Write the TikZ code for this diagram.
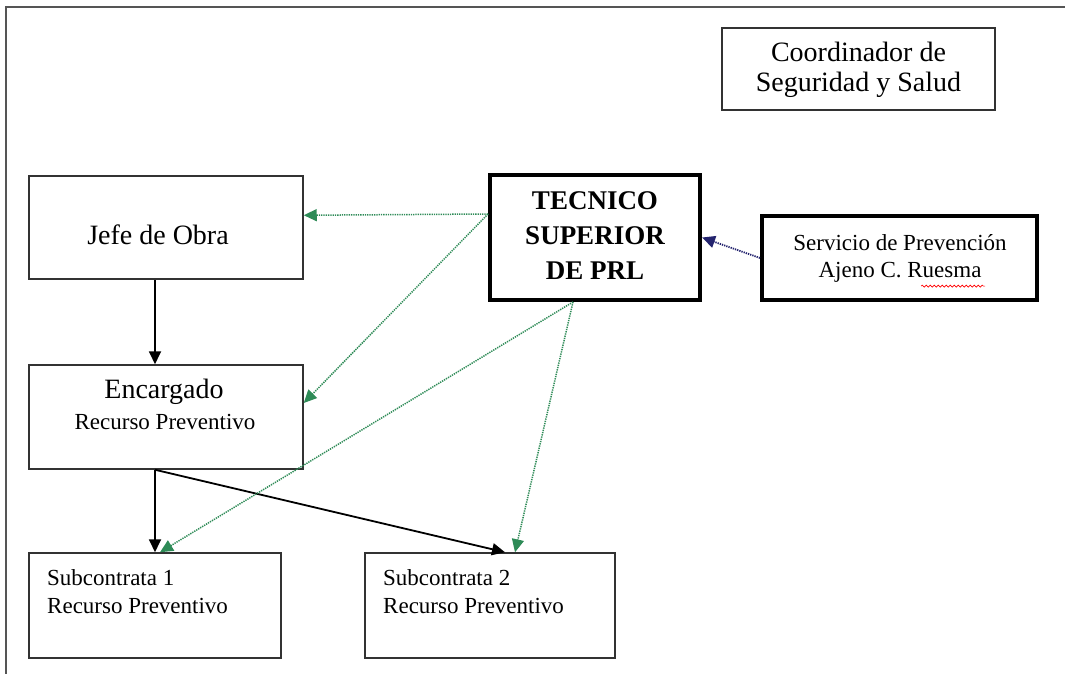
\documentclass[tikz,border=0pt]{standalone}
\usepackage{fontspec}
\setmainfont{Liberation Serif}
\usetikzlibrary{arrows.meta,calc,decorations.pathmorphing}
\definecolor{frame}{RGB}{85,85,85}
\definecolor{boxline}{RGB}{50,50,50}
\definecolor{grn}{RGB}{46,139,87}
\definecolor{navy}{RGB}{35,35,110}
\tikzset{
  plainbox/.style={draw=boxline, line width=1.5pt, minimum width=#1, inner sep=0pt},
  thickbox/.style={draw=black, line width=4pt, inner sep=0pt},
  txt/.style={inner sep=0pt, align=center, font=\fontsize{23}{27}\selectfont},
  bigtxt/.style={inner sep=0pt, align=center, font=\fontsize{28}{30}\selectfont},
  lefttxt/.style={inner sep=0pt, align=left, anchor=north west, font=\fontsize{23}{28}\selectfont},
  blackarrow/.style={draw=black, line width=1.8pt, -{Triangle[length=13pt,width=12pt]}},
  greenarrow/.style={draw=grn, line width=1.5pt, dash pattern=on 1.3pt off 1pt, -{Triangle[length=13pt,width=12pt,fill=grn]}},
  navyarrow/.style={draw=navy, line width=1.8pt, dash pattern=on 1.3pt off 1pt, -{Triangle[length=13pt,width=12pt,fill=navy]}}
}
\begin{document}
\begin{tikzpicture}[x=1pt,y=-1pt]
\useasboundingbox (0,0) rectangle (1065,674);
% outer frame
\draw[frame, line width=2pt] (6,674) -- (6,7) -- (1065,7);

% boxes
\node[plainbox=273pt, minimum height=82pt] (coord) at (858.5,69) {};
\node[plainbox=274pt, minimum height=103pt] (jefe) at (166,227.5) {};
\node[plainbox=274pt, minimum height=104pt] (enc) at (166,417) {};
\node[thickbox, minimum width=210pt, minimum height=125pt] (tec) at (595,237.5) {};
\node[thickbox, minimum width=275pt, minimum height=84pt] (serv) at (899.5,258) {};
\node[plainbox=252pt, minimum height=105pt] (sub1) at (155,605.5) {};
\node[plainbox=250pt, minimum height=105pt] (sub2) at (490,605.5) {};

% texts
\node[bigtxt] (coordtxt) at (858.5,70) {Coordinador de\\Seguridad y Salud};
\node[bigtxt] (jefetxt) at (158,235) {Jefe de Obra};
\node[bigtxt] (enctxt) at (164,392) {Encargado};
\node[txt] (enctxt2) at (165,422) {Recurso Preventivo};
\node[inner sep=0pt, align=center, font=\fontsize{27}{35}\selectfont\bfseries] (tectxt) at (595,236) {TECNICO\\SUPERIOR\\DE PRL};
\node[txt] (servtxt) at (900,258) {Servicio de Prevención\\Ajeno C. Ruesma};
\node[lefttxt] (sub1txt) at (47,569) {Subcontrata 1\\Recurso Preventivo};
\node[lefttxt] (sub2txt) at (383,569) {Subcontrata 2\\Recurso Preventivo};

% spell-check underline
\draw[red, line width=0.6pt, decorate, decoration={snake, amplitude=1pt, segment length=4pt}]
  ($(servtxt.south)+(21,4)$) -- ($(servtxt.south)+(85,4)$);

% black arrows
\draw[blackarrow] ($(jefe.south)+(-11,0)$) -- ($(enc.north)+(-11,0)$);
\draw[blackarrow] ($(enc.south)+(-11,0)$) -- (sub1.north);
\draw[blackarrow] ($(enc.south)+(-11,0)$) -- ($(sub2.north)+(15,0)$);

% green dotted arrows
\draw[greenarrow] ($(tec.north west)+(0,41)$) -- ($(jefe.north east)+(0,40)$);
\draw[greenarrow] ($(tec.north west)+(0,41)$) -- ($(enc.east)+(0,-14)$);
\draw[greenarrow] ($(tec.south west)+(85,0)$) -- ($(sub1.north)+(5,0)$);
\draw[greenarrow] ($(tec.south west)+(85,0)$) -- ($(sub2.north)+(25,0)$);

% navy dotted arrow
\draw[navyarrow] (serv.west) -- (tec.east);
\end{tikzpicture}
\end{document}
